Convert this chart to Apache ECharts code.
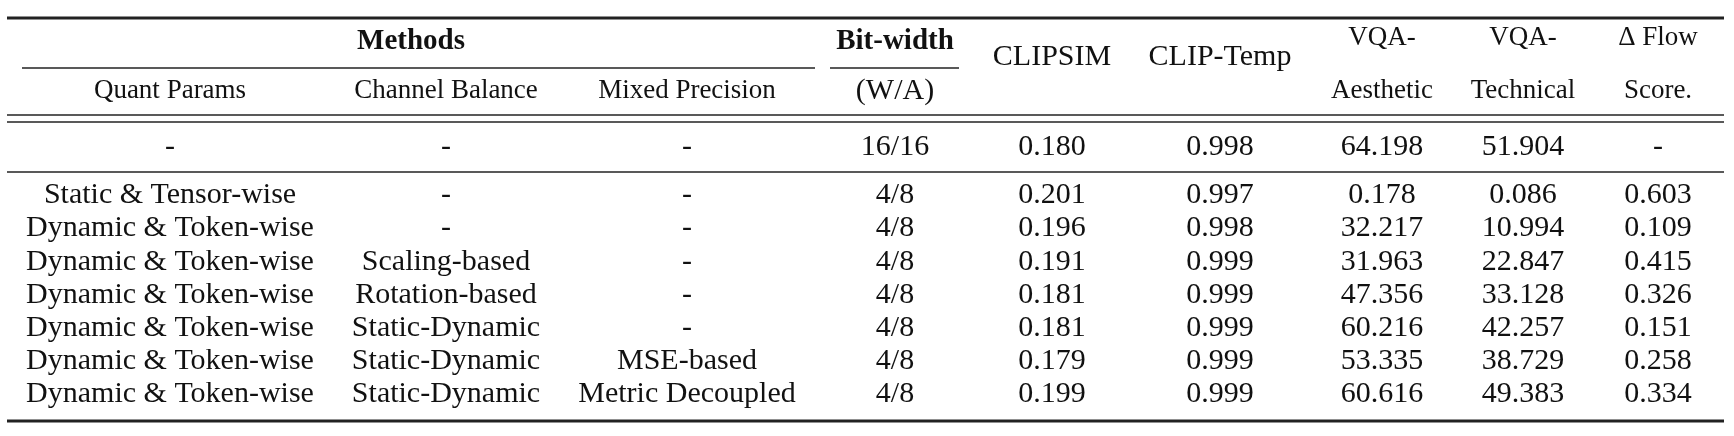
<!DOCTYPE html>
<html><head><meta charset="utf-8">
<script src="https://cdn.jsdelivr.net/npm/echarts@6/dist/echarts.min.js"></script>
<style>html,body{margin:0;padding:0;background:#fff}#c{width:1734px;height:436px}</style>
</head><body><div id="c"></div>
<script>
// ---- data ----
const quantParams = ['-', 'Static & Tensor-wise', 'Dynamic & Token-wise', 'Dynamic & Token-wise', 'Dynamic & Token-wise', 'Dynamic & Token-wise', 'Dynamic & Token-wise', 'Dynamic & Token-wise'];
const channelBalance = ['-', '-', '-', 'Scaling-based', 'Rotation-based', 'Static-Dynamic', 'Static-Dynamic', 'Static-Dynamic'];
const mixedPrecision = ['-', '-', '-', '-', '-', '-', 'MSE-based', 'Metric Decoupled'];
const bitWidth = ['16/16', '4/8', '4/8', '4/8', '4/8', '4/8', '4/8', '4/8'];
const clipsim = ['0.180', '0.201', '0.196', '0.191', '0.181', '0.181', '0.179', '0.199'];
const clipTemp = ['0.998', '0.997', '0.998', '0.999', '0.999', '0.999', '0.999', '0.999'];
const vqaAesthetic = ['64.198', '0.178', '32.217', '31.963', '47.356', '60.216', '53.335', '60.616'];
const vqaTechnical = ['51.904', '0.086', '10.994', '22.847', '33.128', '42.257', '38.729', '49.383'];
const flowScore = ['-', '0.603', '0.109', '0.415', '0.326', '0.151', '0.258', '0.334'];

// ---- layout ----
const colX = [170, 446, 687, 895, 1052, 1220, 1382, 1523, 1658];
const rowY = [147, 195, 228, 262, 295, 328, 361, 394];
const FONT = '"Liberation Serif","Times New Roman",serif';
const g = [];
function txt(s, x, y, size, bold) {
  g.push({type: 'text', x: x, y: y, style: {text: s, font: (bold ? 'bold ' : '') + size + 'px ' + FONT, fill: '#111', align: 'center', verticalAlign: 'middle'}});
}
function line(x1, x2, y, w) {
  g.push({type: 'line', shape: {x1: x1, y1: y, x2: x2, y2: y}, style: {stroke: '#222', lineWidth: w}});
}
line(7, 1724, 18, 3);
line(22, 815, 68, 1.3);
line(830, 959, 68, 1.3);
line(7, 1724, 115, 1.3);
line(7, 1724, 122, 1.3);
line(7, 1724, 172, 1.3);
line(7, 1724, 421, 3);

txt('Methods', 411, 42, 29, true);
txt('Bit-width', 895, 42, 29, true);
txt('Quant Params', colX[0], 91, 27);
txt('Channel Balance', colX[1], 91, 27);
txt('Mixed Precision', colX[2], 91, 27);
txt('(W/A)', colX[3], 91, 30);
txt('CLIPSIM', colX[4], 57, 30);
txt('CLIP-Temp', colX[5], 57, 30);
txt('VQA-', colX[6], 38, 27);
txt('Aesthetic', colX[6], 91, 27);
txt('VQA-', colX[7], 38, 27);
txt('Technical', colX[7], 91, 27);
txt('\u0394 Flow', colX[8], 38, 27);
txt('Score.', colX[8], 91, 27);

const cols = [quantParams, channelBalance, mixedPrecision, bitWidth, clipsim, clipTemp, vqaAesthetic, vqaTechnical, flowScore];
cols.forEach((col, ci) => col.forEach((v, ri) => txt(v, colX[ci], rowY[ri], 30)));

const chart = echarts.init(document.getElementById('c'));
chart.setOption({backgroundColor: '#fff', animation: false, graphic: {elements: g}});
</script></body></html>
